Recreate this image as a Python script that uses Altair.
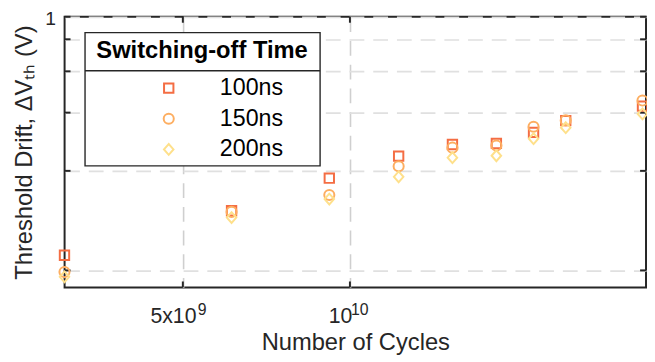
import altair as alt
import pandas as pd

# ---- data ----
cycles = [3.06e9, 6.12e9, 9.18e9, 1.224e10, 1.53e10, 1.836e10, 2.142e10, 2.448e10, 3.366e10]
drift_100ns = [0.190, 0.259, 0.325, 0.379, 0.411, 0.414, 0.447, 0.485, 0.537]
drift_150ns = [0.169, 0.257, 0.289, 0.353, 0.402, 0.408, 0.465, 0.486, 0.558]
drift_200ns = [0.1635, 0.247, 0.281, 0.328, 0.375, 0.380, 0.428, 0.462, 0.5085]
series = ["100ns", "150ns", "200ns"]
x_tick_values = [5e9, 1e10]
x_tick_bases = ["5x10", "10"]
x_tick_exponents = ["9", "10"]
y_tick_values = [0.171, 0.342, 0.513, 0.684, 0.855, 1.0]
x_domain = [3.0614e9, 3.4155e10]
y_domain = [0.15189, 1.0]

# ---- styling ----
shapes = ["square", "circle", "M-0.88,0L0,-1L0.88,0L0,1Z"]
colors = ["#F46D43", "#FDAE61", "#FEE08B"]
sizes = [90, 120, 180]
FONT = "Liberation Sans"
TXT = "#262626"
W, H = 588.7, 274

rows = []
for name, vals in zip(series, [drift_100ns, drift_150ns, drift_200ns]):
    for c, v in zip(cycles, vals):
        rows.append({"cycles": c, "drift": v, "Switching-off Time": name})
df = pd.DataFrame(rows)

xscale = alt.Scale(type="log", domain=x_domain, nice=False, zero=False)
yscale = alt.Scale(type="log", domain=y_domain, nice=False, zero=False)

xaxis = alt.Axis(
    values=x_tick_values,
    labelExpr="datum.value > 7e9 ? '" + x_tick_bases[1] + "' : '" + x_tick_bases[0] + "'",
    domain=False, ticks=False, grid=True,
    gridColor="#cfcfcf", gridWidth=1.6, gridDash=[15, 9],
    labelFont=FONT, labelFontSize=21.5, labelColor=TXT,
    labelBaseline="alphabetic", labelPadding=35.3, labelFlush=False,
    labelOffset=-10, labelAlign="center",
    title="Number of Cycles", titleFont=FONT, titleFontSize=24,
    titleFontWeight="normal", titleColor=TXT,
    titleX=W / 2, titleY=63, titleBaseline="alphabetic", titleAlign="center",
)
yaxis = alt.Axis(
    values=y_tick_values,
    labelExpr="datum.value > 0.99 ? '1' : ''",
    domain=False, ticks=False, grid=True,
    gridColor="#e0e0e0", gridWidth=1.7, gridDash=[15, 9],
    labelFont=FONT, labelFontSize=19.5, labelColor=TXT,
    labelBaseline="middle", labelPadding=9.3, labelFlush=False, labelOffset=1.5,
    title="Threshold Drift, ΔVₜₕ (V)", titleFont=FONT, titleFontSize=24,
    titleFontWeight="normal", titleColor=TXT,
    titleAngle=270, titleX=-33.6, titleY=H / 2,
    titleBaseline="alphabetic", titleAlign="center",
)

def X(field="cycles"):
    return alt.X(f"{field}:Q", scale=xscale, axis=xaxis)

def Y(field="drift"):
    return alt.Y(f"{field}:Q", scale=yscale, axis=yaxis)

legend = alt.Legend(
    orient="none", legendX=20.7, legendY=10.8, padding=11.5,
    title="Switching-off Time", titleFont=FONT, titleFontSize=24,
    titleFontWeight="bold", titleColor="#000000", titleAnchor="middle",
    titleLimit=600, labelLimit=300,
    titlePadding=14.2, labelFont=FONT, labelFontSize=23.5, labelColor="#000000",
    symbolOffset=36.5, labelOffset=40, rowPadding=6, symbolStrokeWidth=2,
)

points = alt.Chart(df).mark_point(filled=False, strokeWidth=2, opacity=1).encode(
    x=X(), y=Y(),
    color=alt.Color("Switching-off Time:N", scale=alt.Scale(domain=series, range=colors), legend=legend),
    shape=alt.Shape("Switching-off Time:N", scale=alt.Scale(domain=series, range=shapes), legend=legend),
    size=alt.Size("Switching-off Time:N", scale=alt.Scale(domain=series, range=sizes), legend=legend),
)

ytk = pd.DataFrame({"drift": y_tick_values})
xtk = pd.DataFrame({"cycles": x_tick_values, "exp": x_tick_exponents})
one = pd.DataFrame({"k": [0]})

tick_style = dict(color=TXT, strokeWidth=2)
left_ticks = alt.Chart(ytk).mark_rule(**tick_style).encode(y=Y(), x=alt.value(0), x2=alt.value(6))
right_ticks = alt.Chart(ytk).mark_rule(**tick_style).encode(y=Y(), x=alt.value(W - 6), x2=alt.value(W))
bottom_ticks = alt.Chart(xtk).mark_rule(**tick_style).encode(x=X(), y=alt.value(H - 6), y2=alt.value(H))
top_ticks = alt.Chart(xtk).mark_rule(**tick_style).encode(x=X(), y=alt.value(0), y2=alt.value(6))

# superscript exponents of the x tick labels
exp_dx = [15.0, 1.0]
exp_layers = [
    alt.Chart(xtk.iloc[[i]]).mark_text(
        align="left", baseline="alphabetic", font=FONT, fontSize=16, color=TXT, dx=exp_dx[i]
    ).encode(x=X(), y=alt.value(H + 28.3), text="exp:N")
    for i in range(len(x_tick_values))
]

legend_box = alt.Chart(one).mark_rect(fill="white", stroke="#262626", strokeWidth=1.4).encode(
    x=alt.value(20.7), x2=alt.value(258.7), y=alt.value(16), y2=alt.value(151)
)
legend_sep = alt.Chart(one).mark_rule(color="#262626", strokeWidth=1.4).encode(
    x=alt.value(20.7), x2=alt.value(258.7), y=alt.value(54.6)
)

chart = alt.layer(
    legend_box, legend_sep, left_ticks, right_ticks, bottom_ticks, top_ticks, *exp_layers, points
).properties(
    width=W, height=H,
    autosize=alt.AutoSizeParams(type="none"),
    padding={"left": 57.3, "top": 6.7, "right": 1, "bottom": 73},
).configure_view(stroke="#262626", strokeWidth=2)

chart.save("out.html", embed_options={"renderer": "svg", "actions": False})
